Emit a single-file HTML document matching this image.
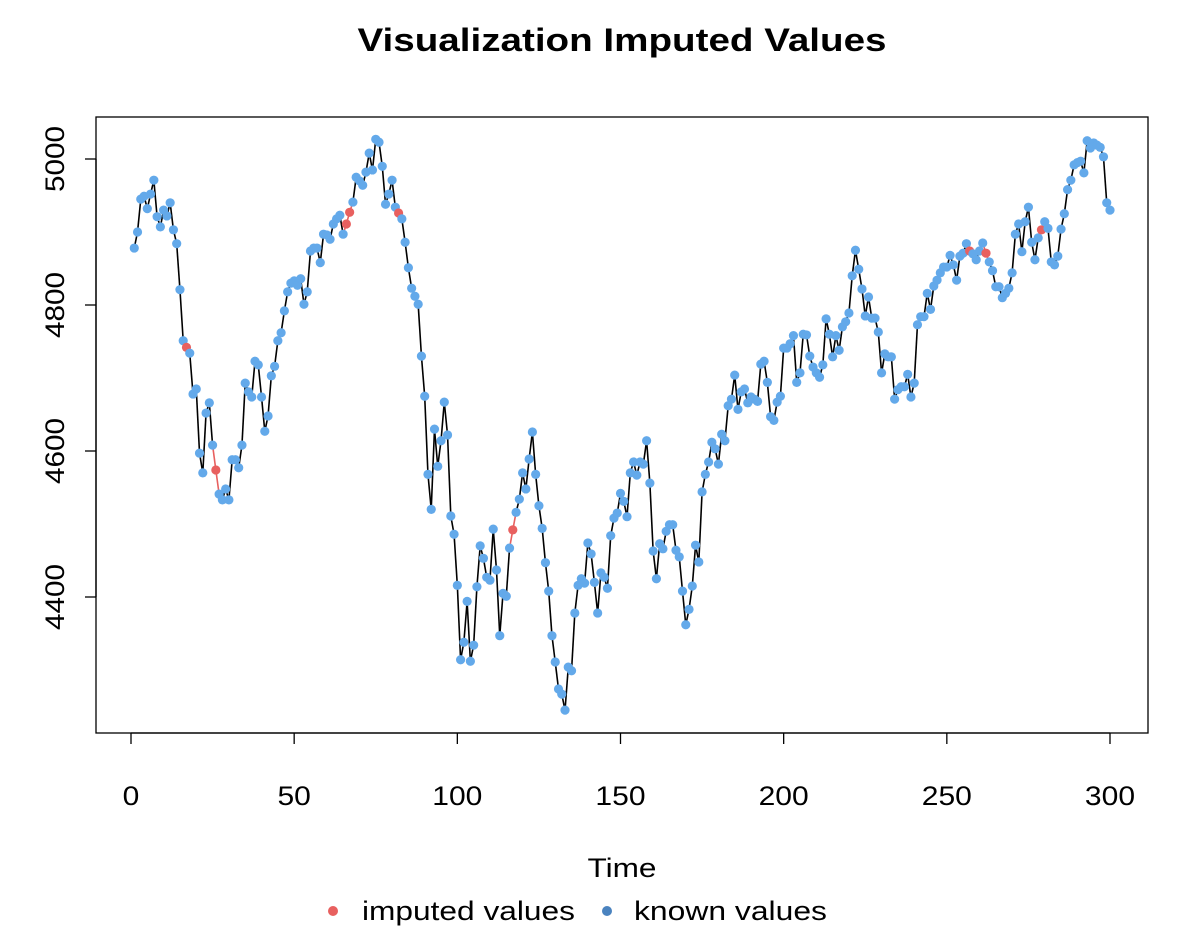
<!DOCTYPE html>
<html><head><meta charset="utf-8"><style>
html,body{margin:0;padding:0;background:#fff;}
svg text{font-family:"Liberation Sans",Arial,sans-serif;fill:#000;}
</style></head><body>
<svg id="chart" width="1194" height="940" viewBox="0 0 1194 940" xmlns="http://www.w3.org/2000/svg">
<rect x="0" y="0" width="1194" height="940" fill="#fff"/>
<text x="622" y="51" text-anchor="middle" font-size="32" font-weight="bold" textLength="529" lengthAdjust="spacingAndGlyphs">Visualization Imputed Values</text>
<rect x="96" y="117" width="1052" height="616" fill="none" stroke="#000" stroke-width="1.3"/>
<g id="xaxis"></g>
<g id="yaxis"></g>
<g id="lines"></g>
<g id="points"></g>
<text x="622" y="877" text-anchor="middle" font-size="27" textLength="69" lengthAdjust="spacingAndGlyphs">Time</text>
<g>
<g>
<circle cx="333" cy="911" r="5" fill="#e8605f"/>
<text x="362" y="920" font-size="27" textLength="213" lengthAdjust="spacingAndGlyphs">imputed values</text>
</g>
<g>
<circle cx="607" cy="911" r="5" fill="#4a83bf"/>
<text x="634" y="920" font-size="27" textLength="193" lengthAdjust="spacingAndGlyphs">known values</text>
</g>
</g>
</svg>
<script>
const values = [4878,4900,4945,4949,4932,4952,4971,4921,4907,4930,4922,4940,4903,4884,4821,4751,4742,4734,4678,4685,
4597,4570,4652,4666,4608,4574,4541,4533,4548,4533,4588,4588,4577,4608,4693,4681,4674,4723,4718,4674,
4627,4648,4703,4716,4751,4762,4792,4818,4830,4833,4827,4836,4801,4818,4874,4878,4878,4858,4897,4896,
4890,4911,4918,4923,4897,4911,4927,4941,4975,4970,4964,4982,5008,4985,5027,5023,4990,4938,4952,4971,
4934,4926,4918,4886,4851,4823,4812,4801,4730,4675,4568,4520,4630,4579,4614,4667,4622,4511,4486,4416,
4314,4338,4394,4312,4334,4414,4470,4453,4427,4423,4493,4437,4347,4405,4401,4467,4492,4516,4534,4570,
4548,4589,4626,4568,4525,4494,4447,4408,4347,4311,4274,4267,4245,4304,4299,4378,4416,4425,4419,4474,
4459,4420,4378,4433,4427,4412,4484,4508,4515,4542,4531,4510,4570,4585,4567,4585,4582,4614,4556,4463,
4425,4473,4466,4490,4499,4499,4464,4455,4408,4362,4383,4415,4471,4448,4544,4568,4585,4612,4603,4582,
4623,4614,4662,4671,4704,4657,4681,4685,4666,4674,4671,4668,4719,4723,4694,4647,4642,4667,4675,4741,
4741,4747,4758,4694,4707,4760,4759,4730,4715,4707,4701,4718,4781,4760,4729,4758,4738,4770,4777,4789,
4840,4875,4849,4822,4785,4811,4782,4782,4763,4707,4733,4729,4729,4671,4684,4688,4688,4705,4674,4693,
4773,4784,4784,4816,4794,4826,4834,4844,4852,4852,4868,4855,4834,4867,4871,4884,4874,4870,4862,4874,
4885,4871,4859,4847,4825,4825,4810,4816,4823,4844,4897,4911,4873,4914,4934,4886,4862,4892,4903,4914,
4905,4859,4855,4867,4904,4925,4958,4971,4992,4995,4997,4981,5025,5015,5022,5019,5016,5003,4940,4930];
const imputedIdx = [17,26,66,67,82,117,257,262,279];
const xTicks = [0,50,100,150,200,250,300];
const yTicks = [4400,4600,4800,5000];

const NS = "http://www.w3.org/2000/svg";
const xs = t => 131 + (t - 0) * (1110 - 131) / 300;
const ys = v => 159 + (5000 - v) * (597 - 159) / 600;
function mk(tag, attrs, parent) {
  const e = document.createElementNS(NS, tag);
  for (const k in attrs) e.setAttribute(k, attrs[k]);
  parent.appendChild(e);
  return e;
}
const xa = document.getElementById('xaxis');
const ya = document.getElementById('yaxis');
mk('line', {x1: xs(xTicks[0]), x2: xs(xTicks[xTicks.length-1]), y1: 733, y2: 733, stroke: '#000', 'stroke-width': 1.3}, xa);
xTicks.forEach(t => {
  const l = mk('line', {x1: xs(t), x2: xs(t), y1: 733, y2: 744, stroke: '#000', 'stroke-width': 1.3}, xa);
  
  
  const s = String(t);
  const tx = mk('text', {x: xs(t), y: 805, 'text-anchor': 'middle', 'font-size': 27, textLength: s.length * 16.7, lengthAdjust: 'spacingAndGlyphs'}, xa);
  tx.textContent = s;
  
  
});
mk('line', {x1: 96, x2: 96, y1: ys(yTicks[0]), y2: ys(yTicks[yTicks.length-1]), stroke: '#000', 'stroke-width': 1.3}, ya);
yTicks.forEach(t => {
  const l = mk('line', {x1: 85, x2: 96, y1: ys(t), y2: ys(t), stroke: '#000', 'stroke-width': 1.3}, ya);
  
  
  const tx = mk('text', {x: 64, y: ys(t), 'text-anchor': 'middle', 'font-size': 27, textLength: 66, lengthAdjust: 'spacingAndGlyphs', transform: `rotate(-90 64 ${ys(t)})`}, ya);
  tx.textContent = t;
  
  
});
const lg = document.getElementById('lines');
const pg = document.getElementById('points');
const isImp = i => imputedIdx.includes(i + 1);
for (let i = 0; i < values.length - 1; i++) {
  const red = isImp(i) || isImp(i + 1);
  const l = mk('line', {x1: xs(i + 1), y1: ys(values[i]), x2: xs(i + 2), y2: ys(values[i + 1]), stroke: red ? '#e8605f' : '#000', 'stroke-width': 1.6}, lg);
  
  
}
values.forEach((v, i) => {
  const imp = isImp(i);
  const c = mk('circle', {cx: xs(i + 1), cy: ys(v), r: 4.6, fill: imp ? '#e8605f' : '#63a9ea'}, pg);
  
  
});
</script>
</body></html>
